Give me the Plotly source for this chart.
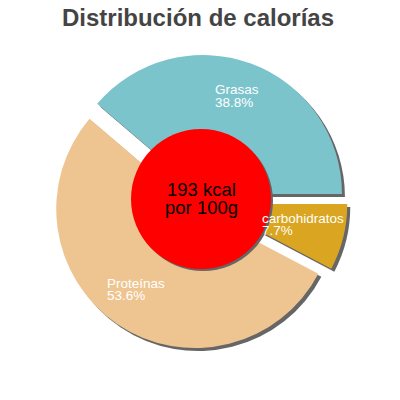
import plotly.graph_objects as go

# nutrient shares of calories (%)
labels = ["Grasas", "carbohidratos", "Proteínas"]
values = [38.8, 7.7, 53.6]
colors = ["#7CC4CC", "#DAA520", "#EEC591"]
kcal_lines = ["193 kcal", "por 100g"]
title = "Distribución de calorías"

W = H = 400
pull = 0.061
shadow = 3
page_off = 8  # default body margin of the html page


def px(x):
    return (x - page_off) / W


def py(y):
    return 1 - (y - page_off) / H


# pie box in screen pixels (centre 200,202, box 295)
cx, cy, box = 200, 202, 295
dom_x = [px(cx - box / 2), px(cx + box / 2)]
dom_y = [py(cy + box / 2), py(cy - box / 2)]

# first slice ends at 3 o'clock
rotation = 90 - 360 * values[0] / sum(values)

fig = go.Figure()

# drop shadow
fig.add_trace(go.Pie(
    labels=labels, values=values, sort=False, direction="clockwise",
    rotation=rotation, pull=pull, textinfo="none", hoverinfo="skip",
    marker=dict(colors=["#666666"] * len(values), line=dict(width=0)),
    domain=dict(x=[d + shadow / W for d in dom_x], y=[d - shadow / H for d in dom_y]),
    showlegend=False,
))

fig.add_trace(go.Pie(
    labels=labels, values=values, sort=False, direction="clockwise",
    rotation=rotation, pull=pull, textinfo="none",
    marker=dict(colors=colors, line=dict(width=0)),
    domain=dict(x=dom_x, y=dom_y),
    showlegend=False,
))

# red centre disc with its shadow
rc_x, rc_y, rc_r = 201, 199, 70
for off, col in [(2, "#666666"), (0, "#FF0000")]:
    fig.add_shape(type="circle", xref="paper", yref="paper",
                  x0=px(rc_x - rc_r + off), x1=px(rc_x + rc_r + off),
                  y0=py(rc_y + rc_r + off), y1=py(rc_y - rc_r + off),
                  fillcolor=col, line=dict(width=0), layer="above")

for i, line in enumerate(kcal_lines):
    fig.add_annotation(x=px(rc_x), y=py(189 + 18 * i), xref="paper", yref="paper",
                       text=line, showarrow=False, yanchor="middle",
                       font=dict(family="Liberation Sans, Arial", size=18.5, color="black"))

# slice labels (left edge x, name centre y)
label_pos = [(214, 90), (261, 218), (106, 283)]
for lab, v, (lx, ly) in zip(labels, values, label_pos):
    for txt, yy in [(lab, ly), (f"{v}%", ly + 12)]:
        fig.add_annotation(x=px(lx), y=py(yy), xref="paper", yref="paper",
                           text=txt, showarrow=False, xanchor="left", yanchor="middle",
                           borderpad=0,
                           font=dict(family="Liberation Sans, Arial", size=13.5, color="white"))

fig.update_layout(
    width=W, height=H,
    margin=dict(l=0, r=0, t=0, b=0),
    paper_bgcolor="white",
    title=dict(text=f"<b>{title}</b>", x=px(198), xanchor="center",
               y=py(18), yref="container", yanchor="middle",
               font=dict(family="Liberation Sans, Arial", size=24, color="#444444")),
)

fig.write_html("out.html")
